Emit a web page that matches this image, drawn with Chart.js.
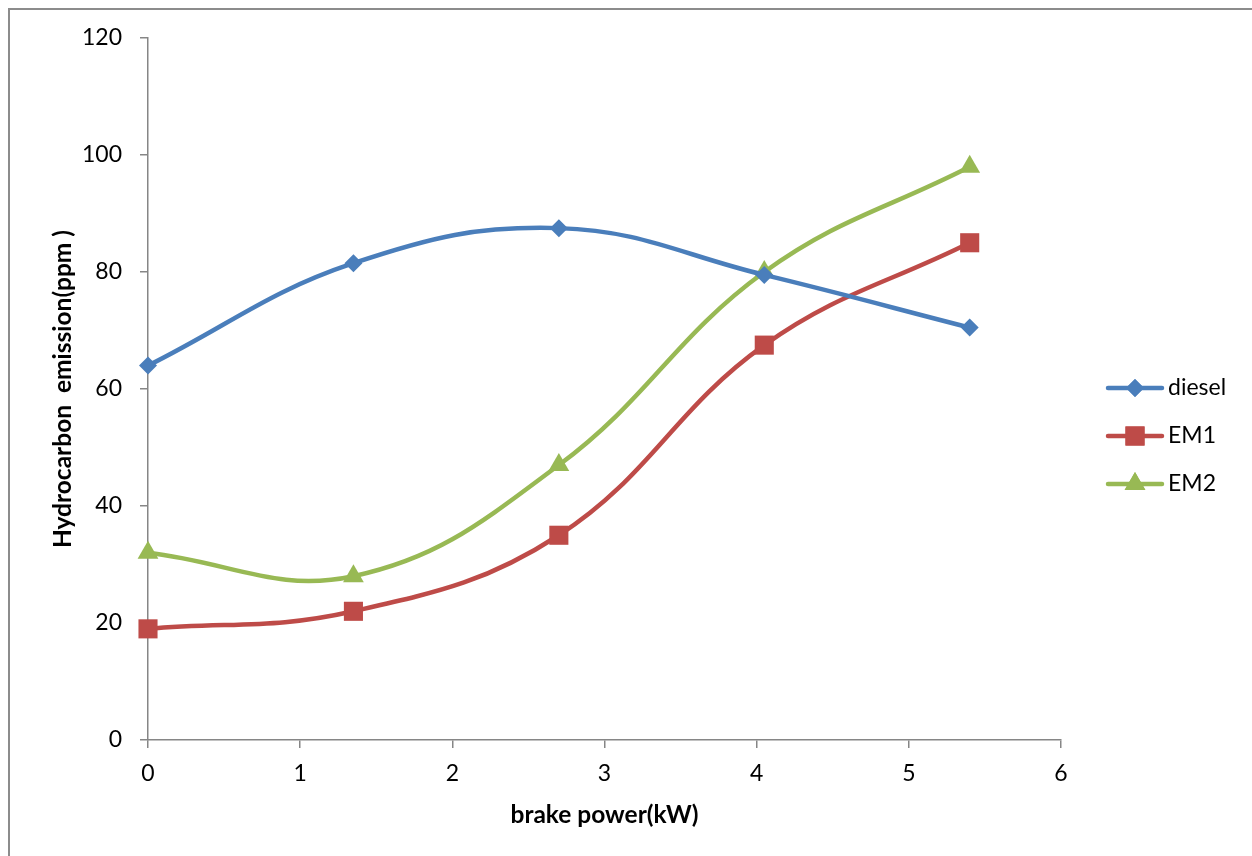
<!DOCTYPE html>
<html>
<head>
<meta charset="utf-8">
<script src="https://cdn.jsdelivr.net/npm/chart.js@4.4.1/dist/chart.umd.min.js"></script>
<style>
  html, body { margin: 0; padding: 0; background: #fff; overflow: hidden; }
  #frame {
    position: absolute; left: 8px; top: 8px; width: 1300px; height: 900px;
    border-left: 2px solid #8c8c8c; border-top: 2px solid #8c8c8c;
  }
  #wrap { position: absolute; left: 0; top: 0; width: 1252px; height: 856px; }
</style>
</head>
<body>
<div id="frame"></div>
<div id="wrap"><canvas id="chartHC"></canvas></div>
<script>
// brake power (kW) for each load step
const potencia = [0, 1.35, 2.7, 4.05, 5.4];

// hydrocarbon emission (ppm)
const diesel = [64, 81.5, 87.5, 79.5, 70.5];
const em1 = [19, 22, 35, 67.5, 85];
const em2 = [32, 28, 47, 80, 98];

const yTicks = [0, 20, 40, 60, 80, 100, 120];
const xTicks = [0, 1, 2, 3, 4, 5, 6];

const fuente = 'Lato, "Open Sans", sans-serif';

const puntos = (valores) => valores.map((v, i) => ({ x: potencia[i], y: v }));

const serie = (label, data, color, pointStyle, radius) => ({
    label,
    data: puntos(data),
    borderColor: color,
    backgroundColor: color,
    borderWidth: 4.5,
    pointStyle,
    pointRadius: radius,
    pointHoverRadius: radius,
    pointBorderWidth: 0,
    tension: 0.4,
    clip: false,
    fill: false
});

// legend on the right: short line with the marker in the middle
const leyenda = {
    id: 'leyenda',
    afterDraw(chart) {
        const ctx = chart.ctx;
        const x0 = 1108, x1 = 1162, yBase = 388, paso = 48;
        chart.data.datasets.forEach((ds, i) => {
            const y = yBase + i * paso;
            ctx.save();
            ctx.strokeStyle = ds.borderColor;
            ctx.lineWidth = 4.5;
            ctx.lineCap = 'round';
            ctx.beginPath();
            ctx.moveTo(x0, y);
            ctx.lineTo(x1, y);
            ctx.stroke();
            ctx.fillStyle = ds.backgroundColor;
            Chart.helpers.drawPoint(ctx, {
                pointStyle: ds.pointStyle,
                radius: ds.pointRadius,
                rotation: 0,
                borderWidth: 0
            }, (x0 + x1) / 2, y);
            ctx.fill();
            ctx.fillStyle = '#000';
            ctx.font = '23px ' + fuente;
            ctx.textBaseline = 'middle';
            ctx.textAlign = 'left';
            ctx.fillText(ds.label, 1168, y);
            ctx.restore();
        });
    }
};

const ctx = document.getElementById('chartHC').getContext('2d');

new Chart(ctx, {
    type: 'line',
    data: {
        datasets: [
            serie('diesel', diesel, '#4A7EBB', 'rectRot', 9),
            serie('EM1', em1, '#BE4B48', 'rect', 13.5),
            serie('EM2', em2, '#98B954', 'triangle', 12)
        ]
    },
    options: {
        responsive: true,
        maintainAspectRatio: false,
        animation: false,
        layout: { padding: { left: 0, right: 191, top: 38, bottom: 0 } },
        plugins: {
            legend: { display: false },
            tooltip: { enabled: false }
        },
        scales: {
            x: {
                type: 'linear',
                min: 0,
                max: 6,
                afterFit: (scale) => { scale.height = 116; },
                afterBuildTicks: (scale) => { scale.ticks = xTicks.map(v => ({ value: v })); },
                grid: {
                    drawOnChartArea: false,
                    drawTicks: true,
                    tickLength: 8,
                    color: '#868686',
                    lineWidth: 1.5
                },
                border: { color: '#868686', width: 1.5 },
                ticks: {
                    color: '#000',
                    padding: 12,
                    font: { family: fuente, size: 23 }
                },
                title: {
                    display: true,
                    text: 'brake power(kW)',
                    color: '#000',
                    padding: { top: 0, bottom: 26 },
                    font: { family: fuente, size: 24.5, weight: 'bold' }
                }
            },
            y: {
                min: 0,
                max: 120,
                afterFit: (scale) => { scale.width = 148; },
                afterBuildTicks: (scale) => { scale.ticks = yTicks.map(v => ({ value: v })); },
                grid: {
                    drawOnChartArea: false,
                    drawTicks: true,
                    tickLength: 8,
                    color: '#868686',
                    lineWidth: 1.5
                },
                border: { color: '#868686', width: 1.5 },
                ticks: {
                    color: '#000',
                    padding: 18,
                    font: { family: fuente, size: 23 }
                },
                title: {
                    display: true,
                    text: 'Hydrocarbon  emission(ppm )',
                    color: '#000',
                    padding: { top: 48, bottom: 0 },
                    font: { family: fuente, size: 24.5, weight: 'bold' }
                }
            }
        }
    },
    plugins: [leyenda]
});
</script>
</body>
</html>
